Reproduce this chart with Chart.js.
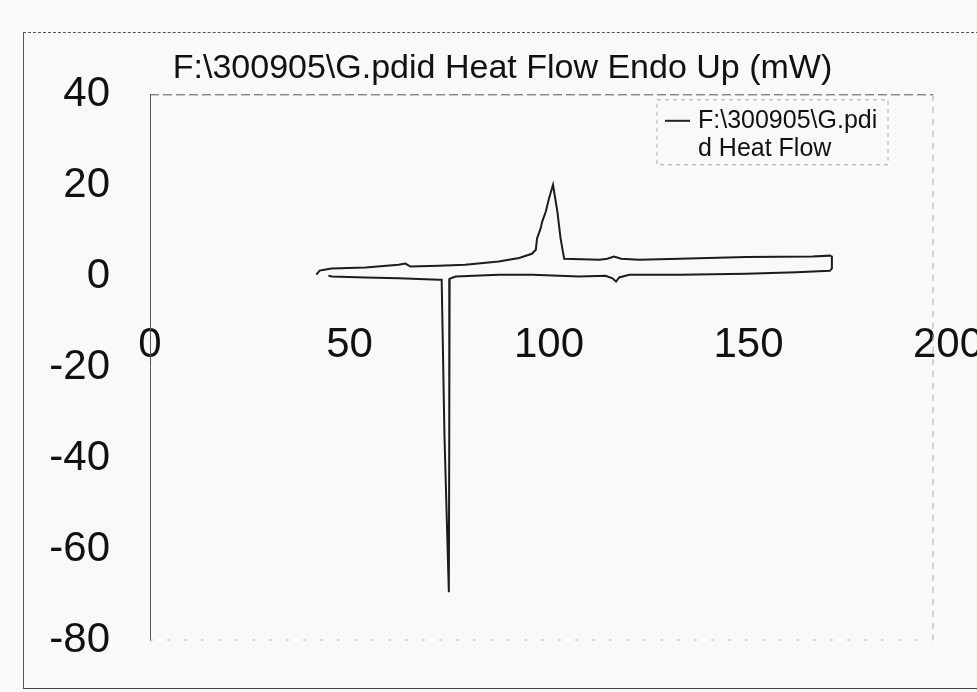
<!DOCTYPE html>
<html>
<head>
<meta charset="utf-8">
<script src="https://cdn.jsdelivr.net/npm/chart.js@4.4.1/dist/chart.umd.min.js"></script>
<style>
  html, body { margin: 0; padding: 0; background: #f9f9f9; }
  #wrap { position: relative; width: 977px; height: 692px; overflow: hidden; }
  #frame { position: absolute; left: 23px; top: 32px; width: 980px; height: 655px;
           border-left: 1px solid #555; border-top: 1px dashed #555; border-bottom: 1px solid #444; }
  canvas { position: absolute; left: 0; top: 0; }
</style>
</head>
<body>
<div id="wrap">
  <div id="frame"></div>
  <canvas id="dscChart" width="977" height="692"></canvas>
</div>
<script>
const titleText = "F:\\300905\\G.pdid Heat Flow Endo Up (mW)";
const seriesLabel = "F:\\300905\\G.pdid Heat Flow";
const legendLines = ["F:\\300905\\G.pdi", "d Heat Flow"];
const xTicks = [0, 50, 100, 150, 200];
const yTicks = [-80, -60, -40, -20, 0, 20, 40];

// heating run first, then the cooling run back down
const temperature = [
    41.7, 42.5, 43.7, 45.5, 54, 62.3, 64, 65.3, 72.4, 79, 87.4, 92.5, 95.7, 96.7, 97,
    97.9, 98.3, 99.2, 100, 101, 102.1, 102.9, 103.8, 112.6, 114.6, 116.3, 118.1, 122.6,
    132.7, 149.4, 166, 170.4, 170.9, 170.9, 170.4,
    162, 149.4, 132.7, 120.1, 117.6, 116.8, 115.9, 114.2, 107.5, 95.8, 87.4, 76.6,
    75.1, 75.0, 74.9, 73.8, 73.1, 72.4, 62.3, 53.9, 45.6, 44.7
];
const heatFlow = [
    0.4, 1.3, 1.5, 1.75, 2.0, 2.6, 2.85, 2.2, 2.4, 2.6, 3.3, 4.1, 5.0, 5.9, 8.4,
    10.6, 12.1, 14.3, 17.2, 20.2, 14.3, 8.4, 3.9, 3.7, 3.9, 4.4, 3.9, 3.7,
    3.9, 4.3, 4.4, 4.6, 4.4, 1.8, 1.25,
    0.95, 0.6, 0.4, 0.4, -0.2, -1.1, -0.4, 0.15, 0, 0.4, 0.4, 0,
    -0.5, -35, -69.5, -35, -0.7, -0.7, -0.4, -0.2, 0, 0.2
];

const fontFamily = '"Liberation Sans", Arial, sans-serif';

// legend box with the label wrapped on two lines, like the scan
const boxLegend = {
    id: "boxLegend",
    afterDraw(chart) {
        const { ctx, chartArea } = chart;
        const right = chartArea.right - 60;
        const top = chartArea.top + 5;
        const left = right - 231;
        ctx.save();
        ctx.strokeStyle = "#aaa";
        ctx.lineWidth = 1;
        ctx.setLineDash([4, 4]);
        ctx.strokeRect(left, top, right - left, 65);
        ctx.setLineDash([]);
        ctx.strokeStyle = "#222";
        ctx.lineWidth = 2;
        ctx.beginPath();
        ctx.moveTo(left + 8, top + 21);
        ctx.lineTo(left + 33, top + 21);
        ctx.stroke();
        ctx.fillStyle = "#111";
        ctx.font = "25px " + fontFamily;
        ctx.textBaseline = "middle";
        ctx.fillText(legendLines[0], left + 41, top + 21);
        ctx.fillText(legendLines[1], left + 41, top + 49);
        ctx.restore();
    }
};

// plot area outline (top / right / bottom), the left side is the y axis line
const plotFrame = {
    id: "plotFrame",
    beforeDatasetsDraw(chart) {
        const { ctx, chartArea } = chart;
        const r = chartArea.right - 15;
        ctx.save();
        ctx.lineWidth = 1;
        ctx.strokeStyle = "#555";
        ctx.setLineDash([9, 4]);
        ctx.beginPath();
        ctx.moveTo(chartArea.left, chartArea.top);
        ctx.lineTo(r, chartArea.top);
        ctx.stroke();
        ctx.strokeStyle = "#aaa";
        ctx.setLineDash([6, 6]);
        ctx.beginPath();
        ctx.moveTo(r, chartArea.top);
        ctx.lineTo(r, chartArea.bottom);
        ctx.stroke();
        ctx.strokeStyle = "#bbb";
        ctx.setLineDash([3, 14]);
        ctx.beginPath();
        ctx.moveTo(chartArea.left, chartArea.bottom);
        ctx.lineTo(r, chartArea.bottom);
        ctx.stroke();
        ctx.restore();
    }
};

const ctx = document.getElementById("dscChart").getContext("2d");

new Chart(ctx, {
    type: "line",
    data: {
        datasets: [{
            label: seriesLabel,
            data: temperature.map((t, i) => ({ x: t, y: heatFlow[i] })),
            borderColor: "#1c1c1c",
            borderWidth: 2,
            pointRadius: 0,
            tension: 0,
            fill: false
        }]
    },
    options: {
        responsive: false,
        animation: false,
        devicePixelRatio: 1,
        layout: { padding: { left: 28, right: 0, top: 0, bottom: 52 } },
        plugins: {
            legend: { display: false },
            tooltip: { enabled: false },
            title: {
                display: true,
                text: titleText,
                color: "#111",
                font: { family: fontFamily, size: 34, weight: "normal" },
                padding: { top: 48, bottom: 6 }
            }
        },
        scales: {
            x: {
                type: "linear",
                position: { y: 0 },
                min: 0,
                max: 200,
                afterBuildTicks: s => { s.ticks = xTicks.map(v => ({ value: v })); },
                afterFit: s => {
                    s.paddingLeft = 0;
                    s.paddingRight = 29;
                },
                grid: { display: false, drawTicks: false },
                border: { display: false },
                ticks: {
                    color: "#111",
                    padding: 44,
                    maxRotation: 0,
                    autoSkip: false,
                    font: { family: fontFamily, size: 42 }
                }
            },
            y: {
                min: -80,
                max: 40,
                afterBuildTicks: s => { s.ticks = yTicks.map(v => ({ value: v })); },
                afterFit: s => {
                    s.width = 122;
                    s.paddingTop = 0;
                    s.paddingBottom = 0;
                },
                grid: { display: false, drawTicks: false },
                border: { display: true, color: "#555", width: 1 },
                ticks: {
                    color: "#111",
                    padding: 40,
                    font: { family: fontFamily, size: 42 }
                }
            }
        }
    },
    plugins: [plotFrame, boxLegend]
});
</script>
</body>
</html>
